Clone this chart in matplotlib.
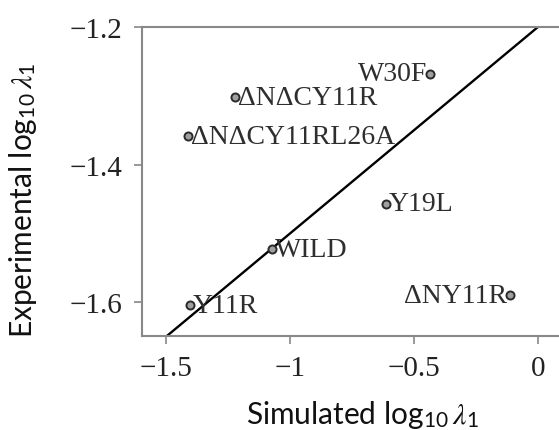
import matplotlib
matplotlib.use("Agg")
import matplotlib.pyplot as plt
import numpy as np

plt.rcParams['mathtext.fontset'] = 'stix'

# Data
labels = ["W30F", "ΔNΔCY11R", "ΔNΔCY11RL26A", "Y19L", "WILD", "Y11R", "ΔNY11R"]
sim = [-0.435, -1.222, -1.411, -0.613, -1.073, -1.403, -0.113]
exp_ = [-1.268, -1.302, -1.359, -1.457, -1.523, -1.604, -1.590]
label_side = ["left", "right", "right", "right", "right", "right", "left"]
fit_x = [-1.6, 0.1]
fit_slope = 0.3
fit_intercept = -1.2
xticks = [-1.5, -1.0, -0.5, 0.0]
xticklabels = ["\u22121.5", "\u22121", "\u22120.5", "0"]
yticks = [-1.6, -1.4, -1.2]
yticklabels = ["\u22121.6", "\u22121.4", "\u22121.2"]

fig = plt.figure(figsize=(5.59, 4.31), dpi=100)
ax = fig.add_axes([142/559, 1 - 337/431, 1 - 142/559, (337 - 28)/431])

fx = np.array(fit_x)
ax.plot(fx, fit_slope * fx + fit_intercept, color='black', lw=1.7, zorder=2)

ax.plot(sim, exp_, 'o', ms=5.8, mfc='#a0a0a0', mec='#2a2a2a', mew=1.4,
        ls='none', zorder=3)

for lab, x, y, side in zip(labels, sim, exp_, label_side):
    off = 2 if side == "right" else -2
    ax.annotate(lab, (x, y), xytext=(off, 0), textcoords='offset points',
                ha='left' if side == "right" else 'right', va='center',
                fontsize=20, family='Liberation Serif', color='#2e2e2e', zorder=4)

ax.set_xlim(-1.597, 0.085)
ax.set_ylim(-1.649, -1.2)
ax.set_xticks(xticks)
ax.set_xticklabels(xticklabels)
ax.set_yticks(yticks)
ax.set_yticklabels(yticklabels)
for t in ax.get_xticklabels() + ax.get_yticklabels():
    t.set_family('Liberation Serif')
    t.set_fontsize(21)
    t.set_color('#222222')

ax.tick_params(direction='out', length=6, width=1.2, color='#888888', pad=8)
for s in ['left', 'top', 'bottom', 'right']:
    ax.spines[s].set_color('#888888')
    ax.spines[s].set_linewidth(1.5)
ax.spines['right'].set_visible(False)

ax.set_xlabel(r'Simulated log$_{\mathregular{10}}\,\lambda_{\mathregular{1}}$',
              family='Lato', fontsize=21.5, color='#111111')
ax.set_ylabel(r'Experimental log$_{\mathregular{10}}\,\lambda_{\mathregular{1}}$',
              family='Lato', fontsize=21.5, color='#111111')
ax.xaxis.set_label_coords(0.528, -0.200)
ax.yaxis.set_label_coords(-0.247, 0.443)

fig.savefig('out.png', dpi=100)
